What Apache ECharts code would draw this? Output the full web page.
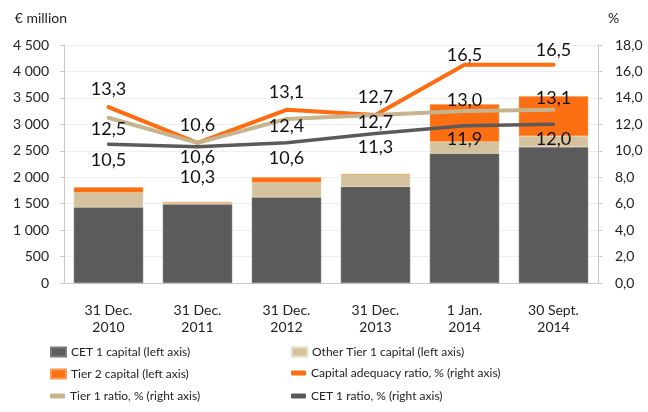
<!DOCTYPE html>
<html>
<head>
<meta charset="utf-8">
<script src="https://cdn.jsdelivr.net/npm/echarts@6/dist/echarts.min.js"></script>
<style>
  html, body { margin: 0; padding: 0; background: #fff; }
  #main { width: 648px; height: 412px; }
</style>
</head>
<body>
<div id="main"></div>
<script>
// categories
var periods = ['31 Dec.\n2010', '31 Dec.\n2011', '31 Dec.\n2012', '31 Dec.\n2013', '1 Jan.\n2014', '30 Sept.\n2014'];

// capital, € million (left axis)
var cet1Capital = [1430, 1490, 1620, 1820, 2450, 2570];
var otherTier1Capital = [280, 35, 280, 235, 220, 210];
var tier2Capital = [100, 0, 100, 0, 710, 750];

// ratios, % (right axis)
var capitalAdequacy = [13.3, 10.6, 13.1, 12.7, 16.5, 16.5];
var tier1Ratio = [12.5, 10.6, 12.4, 12.7, 13.0, 13.1];
var cet1Ratio = [10.5, 10.3, 10.6, 11.3, 11.9, 12.0];

// vertical shift of each value label (px), like the hand placed labels of the original
var carLabelShift = [-18, -18, -18, -18, -10, -15];
var tier1LabelShift = [11, 14, 7, 7, -11, -12];
var cet1LabelShift = [16, 30, 15, 14, 14, 15];

var FONT = 'Lato';
var myChart = echarts.init(document.getElementById('main'));

function comma(v) {
    return v.toFixed(1).replace('.', ',');
}

// 把数值和标签偏移合在一起
function withLabels(values, shifts) {
    return values.map(function (v, i) {
        return { value: v, label: { offset: [0, shifts[i]] } };
    });
}

function ratioLine(name, values, shifts, color, width) {
    return {
        name: name,
        type: 'line',
        yAxisIndex: 1,
        data: withLabels(values, shifts),
        symbol: 'circle',
        symbolSize: 2,
        itemStyle: { color: color },
        lineStyle: { color: color, width: width, cap: 'round', join: 'round' },
        label: {
            show: true,
            position: 'inside',
            fontFamily: FONT,
            fontSize: 18,
            color: '#111',
            formatter: function (p) { return comma(p.value); }
        },
        z: 5
    };
}

var legendText = { fontFamily: FONT, fontSize: 12, color: '#222', lineHeight: 16 };

var option = {
    animation: false,
    grid: { left: 64, right: 50, top: 45, bottom: 129 },
    legend: [
        { data: ['CET 1 capital (left axis)', 'Tier 2 capital (left axis)'], orient: 'vertical', left: 50, top: 344, padding: 0, itemGap: 6, itemWidth: 15, itemHeight: 9, icon: 'rect', textStyle: legendText },
        { data: ['Tier 1 ratio, % (right axis)'], orient: 'vertical', left: 50, top: 388, padding: 0, itemWidth: 15, itemHeight: 5, icon: 'roundRect', textStyle: legendText },
        { data: ['Other Tier 1 capital (left axis)'], orient: 'vertical', left: 291, top: 344, padding: 0, itemWidth: 15, itemHeight: 9, icon: 'rect', textStyle: legendText },
        { data: ['Capital adequacy ratio, % (right axis)', 'CET 1 ratio, % (right axis)'], orient: 'vertical', left: 291, top: 365, padding: 0, itemGap: 7, itemWidth: 15, itemHeight: 5, icon: 'roundRect', textStyle: legendText }
    ],
    xAxis: {
        type: 'category',
        data: periods,
        axisLine: { lineStyle: { color: '#c8c8c8' } },
        axisTick: { show: false },
        axisLabel: { fontFamily: FONT, fontSize: 14, color: '#222', lineHeight: 17, margin: 19, interval: 0 }
    },
    yAxis: [
        {
            type: 'value',
            min: 0, max: 4500, interval: 500,
            name: '€ million',
            nameGap: 20,
            nameTextStyle: { fontFamily: FONT, fontSize: 14, color: '#222', align: 'right', padding: [0, -3, 0, 0] },
            axisLine: { show: true, lineStyle: { color: '#c8c8c8' } },
            axisTick: { show: true, length: 4, lineStyle: { color: '#c8c8c8' } },
            axisLabel: {
                fontFamily: FONT, fontSize: 14, color: '#222', margin: 15,
                formatter: function (v) { return String(v).replace(/\B(?=(\d{3})+(?!\d))/g, ' '); }
            },
            splitLine: { lineStyle: { color: '#eeeeee' } }
        },
        {
            type: 'value',
            min: 0, max: 18, interval: 2,
            name: '%',
            nameGap: 20,
            nameTextStyle: { fontFamily: FONT, fontSize: 14, color: '#222', align: 'left', padding: [0, 0, 0, 10] },
            axisLine: { show: true, lineStyle: { color: '#c8c8c8' } },
            axisTick: { show: true, length: 4, lineStyle: { color: '#c8c8c8' } },
            axisLabel: { fontFamily: FONT, fontSize: 14, color: '#222', margin: 17, formatter: comma },
            splitLine: { show: false }
        }
    ],
    series: [
        {
            name: 'CET 1 capital (left axis)',
            type: 'bar', stack: 'capital',
            data: cet1Capital,
            barCategoryGap: '22%',
            itemStyle: { color: '#5b5b5b', borderColor: '#7a7a7a', borderWidth: 0.5 }
        },
        {
            name: 'Other Tier 1 capital (left axis)',
            type: 'bar', stack: 'capital',
            data: otherTier1Capital,
            itemStyle: { color: '#d3c29d', borderColor: '#e6dbc0', borderWidth: 0.5 }
        },
        {
            name: 'Tier 2 capital (left axis)',
            type: 'bar', stack: 'capital',
            data: tier2Capital,
            itemStyle: { color: '#fb6e12', borderColor: '#fd9a55', borderWidth: 0.5 }
        },
        ratioLine('Capital adequacy ratio, % (right axis)', capitalAdequacy, carLabelShift, '#ff6c10', 4),
        ratioLine('Tier 1 ratio, % (right axis)', tier1Ratio, tier1LabelShift, '#c6b48f', 4),
        ratioLine('CET 1 ratio, % (right axis)', cet1Ratio, cet1LabelShift, '#5a5a5a', 3.5)
    ]
};

myChart.setOption(option);
</script>
</body>
</html>
